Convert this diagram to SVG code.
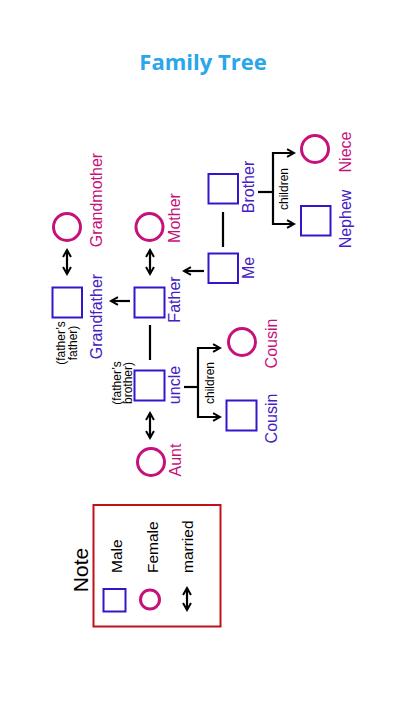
<svg xmlns="http://www.w3.org/2000/svg" width="405" height="720" viewBox="0 0 405 720">
<style>
.bg{fill:#ffffff}
.m{fill:#ffffff;stroke:#3316cc;stroke-width:2}
.f{fill:#ffffff;stroke:#c6107a;stroke-width:3}
.ln{fill:none;stroke:#000000;stroke-width:2.2}
.t{font-family:"Liberation Sans",Arial,sans-serif;font-size:16px;text-anchor:middle}
.tm{fill:#4420c4}
.tf{fill:#c6107a}
.s{font-family:"Liberation Sans",Arial,sans-serif;font-size:12px;fill:#000000;text-anchor:middle}
.lg{font-family:"Liberation Sans",Arial,sans-serif;font-size:15.5px;fill:#000000}
.note{font-family:"Liberation Sans",Arial,sans-serif;font-size:21px;fill:#000000;text-anchor:middle}
</style>
<defs>
<marker id="ah" viewBox="0 0 10 10" refX="8" refY="5" markerWidth="4.5" markerHeight="4.5" orient="auto-start-reverse" markerUnits="strokeWidth">
<path d="M1,1 L8,5 L1,9" fill="none" stroke="#000000" stroke-width="2"/>
</marker>
</defs>
<rect class="bg" x="0" y="0" width="405" height="720"/>
<text x="203" y="70" font-family="'Open Sans','Liberation Sans',sans-serif" font-size="22" font-weight="700" fill="#2aa6ea" text-anchor="middle">Family Tree</text>

<g id="connectors">
<line class="ln" x1="223" y1="212" x2="223" y2="247"/>
<path class="ln" d="M258,192 H273"/>
<path class="ln" d="M294,153 H273 V224 H294" marker-start="url(#ah)" marker-end="url(#ah)"/>
<line class="ln" x1="204" y1="271" x2="184" y2="271" marker-end="url(#ah)"/>
<line class="ln" x1="130" y1="301" x2="111" y2="301" marker-end="url(#ah)"/>
<line class="ln" x1="150" y1="250" x2="150" y2="274" marker-start="url(#ah)" marker-end="url(#ah)"/>
<line class="ln" x1="67" y1="250" x2="67" y2="274" marker-start="url(#ah)" marker-end="url(#ah)"/>
<line class="ln" x1="150" y1="325" x2="150" y2="360"/>
<path class="ln" d="M184,387 H198"/>
<path class="ln" d="M220,348 H198 V417 H220" marker-start="url(#ah)" marker-end="url(#ah)"/>
<line class="ln" x1="150" y1="413" x2="150" y2="438" marker-start="url(#ah)" marker-end="url(#ah)"/>
<text class="s" transform="translate(288,189) rotate(-90)">children</text>
<text class="s" transform="translate(214,383) rotate(-90)">children</text>
</g>

<g id="me">
<rect class="m" x="208.5" y="253.5" width="29.5" height="29.5"/>
<text class="t tm" transform="translate(254,268) rotate(-90)">Me</text>
</g>
<g id="brother">
<rect class="m" x="208.5" y="174" width="29.5" height="29.5"/>
<text class="t tm" transform="translate(254,187) rotate(-90)">Brother</text>
</g>
<g id="niece">
<circle class="f" cx="315" cy="149" r="13.5"/>
<text class="t tf" transform="translate(351,152) rotate(-90)">Niece</text>
</g>
<g id="nephew">
<rect class="m" x="301" y="206" width="29.5" height="29.5"/>
<text class="t tm" transform="translate(351,219) rotate(-90)">Nephew</text>
</g>
<g id="father">
<rect class="m" x="134.5" y="287.5" width="30" height="30"/>
<text class="t tm" transform="translate(180,299.5) rotate(-90)">Father</text>
</g>
<g id="mother">
<circle class="f" cx="149.5" cy="227" r="13.5"/>
<text class="t tf" transform="translate(180,218) rotate(-90)">Mother</text>
</g>
<g id="grandfather">
<rect class="m" x="52.5" y="287.5" width="29.5" height="30"/>
<text class="t tm" transform="translate(102,316.5) rotate(-90)">Grandfather</text>
<text class="s" transform="translate(65,343) rotate(-90)"><tspan x="0" y="0">(father’s</tspan><tspan x="0" y="11.5">father)</tspan></text>
</g>
<g id="grandmother">
<circle class="f" cx="67" cy="227" r="13.5"/>
<text class="t tf" transform="translate(102,200) rotate(-90)">Grandmother</text>
</g>
<g id="uncle">
<rect class="m" x="134.5" y="370.5" width="30" height="30"/>
<text class="t tm" transform="translate(180,385) rotate(-90)">uncle</text>
<text class="s" transform="translate(120.5,383) rotate(-90)"><tspan x="0" y="0">(father’s</tspan><tspan x="0" y="11.5">brother)</tspan></text>
</g>
<g id="aunt">
<circle class="f" cx="151" cy="462" r="13.5"/>
<text class="t tf" transform="translate(181,460) rotate(-90)">Aunt</text>
</g>
<g id="cousin-f">
<circle class="f" cx="242" cy="342" r="13.5"/>
<text class="t tf" transform="translate(277,343.5) rotate(-90)">Cousin</text>
</g>
<g id="cousin-m">
<rect class="m" x="226.5" y="400.5" width="30" height="30"/>
<text class="t tm" transform="translate(277,418.5) rotate(-90)">Cousin</text>
</g>

<g id="note">
<rect x="93.5" y="505" width="127" height="121.5" fill="none" stroke="#c0101a" stroke-width="2"/>
<text class="note" transform="translate(88,570) rotate(-90)">Note</text>
<rect class="m" x="103.5" y="589" width="22" height="22.5"/>
<text class="lg" transform="translate(122,573) rotate(-90)">Male</text>
<circle class="f" cx="150" cy="599.5" r="9.5"/>
<text class="lg" transform="translate(158,573) rotate(-90)">Female</text>
<line class="ln" x1="187" y1="588" x2="187" y2="610" marker-start="url(#ah)" marker-end="url(#ah)"/>
<text class="lg" transform="translate(193,573) rotate(-90)">married</text>
</g>
</svg>
